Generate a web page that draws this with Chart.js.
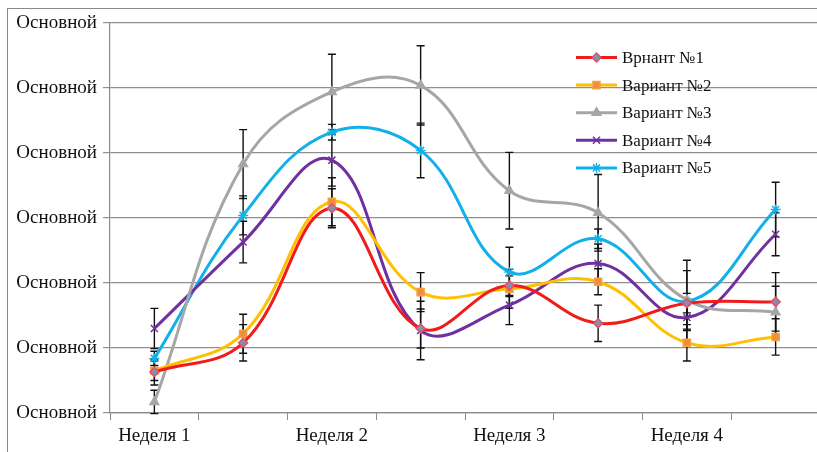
<!DOCTYPE html>
<html>
<head>
<meta charset="utf-8">
<script src="https://cdn.jsdelivr.net/npm/chart.js@4.4.1/dist/chart.umd.min.js"></script>
<style>
html,body{margin:0;padding:0;background:#fff;overflow:hidden;}
#wrap{position:relative;width:830px;height:452px;}
#frame{position:absolute;left:7px;top:8px;width:900px;height:500px;border:1px solid #8a8a8a;box-sizing:border-box;pointer-events:none;}
canvas{position:absolute;left:0;top:0;}
</style>
</head>
<body>
<div id="wrap"><canvas id="c" width="830" height="452"></canvas><div id="frame"></div></div>
<script>
const categories = ['Неделя 1', '', 'Неделя 2', '', 'Неделя 3', '', 'Неделя 4', ''];
const yTickLabel = 'Основной';
const seriesNames = ['Врнант №1', 'Вариант №2', 'Вариант №3', 'Вариант №4', 'Вариант №5'];

const s1 = [0.63, 1.08, 3.15, 1.30, 1.96, 1.38, 1.69, 1.71];
const s2 = [0.65, 1.22, 3.25, 1.86, 1.91, 2.02, 1.08, 1.17];
const s3 = [0.17, 3.83, 4.94, 5.04, 3.42, 3.08, 1.74, 1.55];
const s4 = [1.30, 2.63, 3.89, 1.27, 1.66, 2.30, 1.47, 2.75];
const s5 = [0.84, 3.04, 4.32, 4.04, 2.17, 2.68, 1.72, 3.13];

const e1 = [0.20, 0.28, 0.30, 0.30, 0.15, 0.28, 0.15, 0.45];
const e2 = [0.15, 0.30, 0.37, 0.30, 0.30, 0.20, 0.28, 0.28];
const e3 = [0.18, 0.53, 0.58, 0.61, 0.59, 0.59, 0.45, 0.40];
const e4 = [0.31, 0.32, 0.40, 0.45, 0.30, 0.30, 0.20, 0.33];
const e5 = [0.11, 0.30, 0.12, 0.42, 0.38, 0.15, 0.63, 0.42];

const FONT = "'Liberation Serif', 'Times New Roman', serif";

function ds(label, data, errors, color, pstyle, pfill, pborder, radius) {
  return {
    label, data, errors,
    borderColor: color, backgroundColor: color,
    borderWidth: 3, tension: 0.4,
    pointStyle: pstyle, pointRadius: radius, pointHoverRadius: radius,
    pointBackgroundColor: pfill, pointBorderColor: pborder, pointBorderWidth: 1.5,
    fill: false
  };
}

const datasets = [
  ds(seriesNames[0], s1, e1, '#f01c1c', 'rectRot', '#8092b0', '#e0506a', 4.5),
  ds(seriesNames[1], s2, e2, '#ffc000', 'rect', '#f08c3c', '#f5a040', 5),
  ds(seriesNames[2], s3, e3, '#a6a6a6', 'triangle', '#a6a6a6', '#a6a6a6', 5),
  ds(seriesNames[3], s4, e4, '#7030a0', 'crossRot', '#7030a0', '#7030a0', 5),
  ds(seriesNames[4], s5, e5, '#12b0e8', 'star', '#12b0e8', '#12b0e8', 5)
];

const errorBars = {
  id: 'errorBars',
  beforeDatasetsDraw(chart) {
    const ctx = chart.ctx, x = chart.scales.x, y = chart.scales.y;
    ctx.save();
    ctx.strokeStyle = '#111';
    ctx.lineWidth = 1.4;
    chart.data.datasets.forEach(d => {
      d.data.forEach((v, i) => {
        const e = d.errors[i];
        const px = x.getPixelForValue(i);
        const top = y.getPixelForValue(v + e);
        const bot = y.getPixelForValue(v - e);
        ctx.beginPath();
        ctx.moveTo(px, top); ctx.lineTo(px, bot);
        ctx.moveTo(px - 4, top); ctx.lineTo(px + 4, top);
        ctx.moveTo(px - 4, bot); ctx.lineTo(px + 4, bot);
        ctx.stroke();
      });
    });
    ctx.restore();
  }
};

const customLegend = {
  id: 'customLegend',
  afterDraw(chart) {
    const ctx = chart.ctx;
    const x0 = 576, x1 = 617, tx = 622, y0 = 57.5, dy = 27.6;
    ctx.save();
    ctx.font = '17px ' + FONT;
    ctx.textBaseline = 'middle';
    chart.data.datasets.forEach((d, i) => {
      const yy = y0 + i * dy;
      ctx.strokeStyle = d.borderColor;
      ctx.lineWidth = 3;
      ctx.beginPath(); ctx.moveTo(x0, yy); ctx.lineTo(x1, yy); ctx.stroke();
      ctx.fillStyle = d.pointBackgroundColor;
      ctx.strokeStyle = d.pointBorderColor;
      ctx.lineWidth = 1.5;
      Chart.helpers.drawPoint(ctx, {pointStyle: d.pointStyle, radius: d.pointRadius, borderWidth: 1.5, rotation: 0}, (x0 + x1) / 2, yy);
      ctx.fillStyle = '#111';
      ctx.fillText(d.label, tx, yy + 1);
    });
    ctx.restore();
  }
};

new Chart(document.getElementById('c'), {
  type: 'line',
  data: { labels: categories, datasets },
  options: {
    responsive: false,
    animation: false,
    events: [],
    layout: { padding: { left: 0, right: 10, top: 23, bottom: 0 } },
    plugins: { legend: { display: false }, tooltip: { enabled: false } },
    scales: {
      x: {
        offset: true,
        grid: { display: true, drawOnChartArea: false, offset: true, drawTicks: true, tickLength: 7, color: '#8a8a8a', lineWidth: 1 },
        border: { display: true, color: '#8a8a8a', width: 1.2 },
        ticks: { autoSkip: false, maxRotation: 0, minRotation: 0, padding: 5, color: '#111', font: { family: FONT, size: 19 } },
        afterFit(s) { s.height = 39; }
      },
      y: {
        min: 0, max: 6,
        ticks: { stepSize: 1, padding: 6, color: '#111', font: { family: FONT, size: 19 }, callback: () => yTickLabel },
        grid: { color: '#8f8f8f', lineWidth: 1.2, drawTicks: true, tickLength: 7 },
        border: { display: true, color: '#8a8a8a', width: 1.2 },
        afterFit(s) { s.width = 110; }
      }
    }
  },
  plugins: [errorBars, customLegend]
});
</script>
</body>
</html>
